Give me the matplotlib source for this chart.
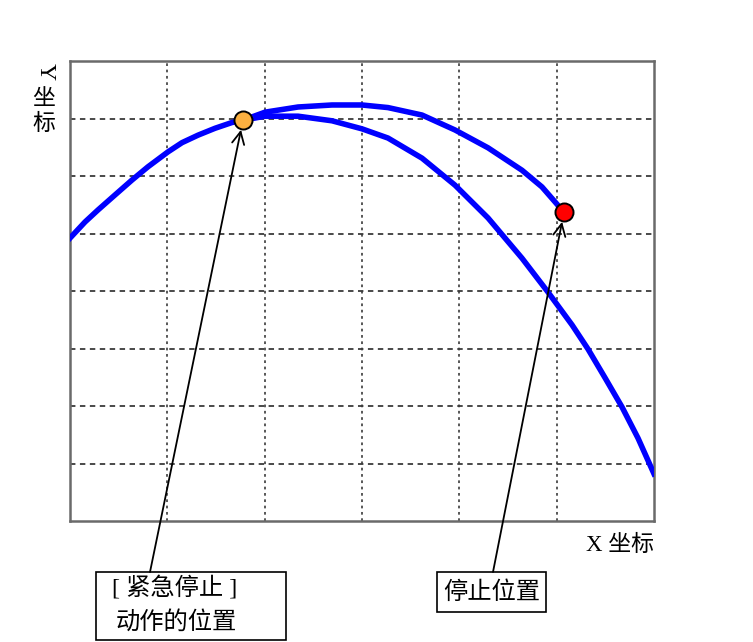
import matplotlib
matplotlib.use('Agg')
import matplotlib.pyplot as plt
from matplotlib.patches import Rectangle

# Trajectory continuing from the emergency stop (lower curve)
lower_x = [0.000, 0.154, 0.288, 0.462, 0.637, 0.801, 1.007, 1.151, 1.315, 1.490,
           1.664, 1.777, 2.004, 2.343, 2.692, 3.000, 3.267, 3.617, 3.956, 4.295,
           4.644, 4.911, 5.158, 5.322, 5.497, 5.672, 5.836, 6.000]
lower_y = [4.92, 5.20, 5.41, 5.67, 5.93, 6.16, 6.42, 6.58, 6.71, 6.83,
           6.93, 6.97, 7.04, 7.04, 6.96, 6.82, 6.66, 6.31, 5.84, 5.27,
           4.57, 3.98, 3.41, 2.99, 2.49, 1.98, 1.44, 0.82]
# Trajectory of the stopping motion (upper curve)
upper_x = [1.777, 2.004, 2.343, 2.692, 3.000, 3.267, 3.617, 3.956, 4.295, 4.644, 4.849, 4.983, 5.075]
upper_y = [6.97, 7.11, 7.20, 7.235, 7.235, 7.19, 7.06, 6.80, 6.49, 6.10, 5.81, 5.55, 5.37]

emergency_pt = (1.777, 6.97)
stop_pt = (5.075, 5.37)

W, H = 753, 642
fig = plt.figure(figsize=(W / 100, H / 100), dpi=100)
ax = fig.add_axes([70 / W, 121 / H, 584 / W, 460 / H])
ax.set_xlim(0, 6)
ax.set_ylim(0, 8)

for xv in range(1, 6):
    ax.axvline(xv, color='#4a4a4a', lw=1.3, ls=(0, (1.5, 2)), zorder=1)
for yv in range(1, 8):
    ax.axhline(yv, color='#3a3a3a', lw=1.3, ls=(0, (3, 2.5)), zorder=1)

ax.plot(lower_x, lower_y, color='#0000FF', lw=4, solid_joinstyle='round', zorder=3)
ax.plot(upper_x, upper_y, color='#0000FF', lw=4, solid_joinstyle='round', zorder=3)

ax.plot([emergency_pt[0]], [emergency_pt[1]], 'o', ms=13, mfc='#FBB040', mec='black', mew=1.4, zorder=5)
ax.plot([stop_pt[0]], [stop_pt[1]], 'o', ms=13, mfc='#FF0000', mec='black', mew=1.4, zorder=5)

ax.set_xticks([])
ax.set_yticks([])
for s in ax.spines.values():
    s.set_color('#6a6a6a')
    s.set_linewidth(1.8)

arrow_kw = dict(arrowstyle='->', lw=1.3, color='black', mutation_scale=22,
                shrinkA=0, shrinkB=7)
ax.annotate('', xy=emergency_pt, xycoords='data', xytext=(150, H - 572),
            textcoords='figure pixels', arrowprops=arrow_kw, annotation_clip=False, zorder=6)
ax.annotate('', xy=stop_pt, xycoords='data', xytext=(493, H - 572),
            textcoords='figure pixels', arrowprops=arrow_kw, annotation_clip=False, zorder=6)

fam = ['Liberation Serif', 'Noto Sans CJK SC']

# boxes
fig.add_artist(Rectangle((96 / W, 1 - 640 / H), 190 / W, 68 / H, transform=fig.transFigure,
                         fill=False, ec='black', lw=1.2))
fig.add_artist(Rectangle((437 / W, 1 - 612 / H), 109 / W, 40 / H, transform=fig.transFigure,
                         fill=False, ec='black', lw=1.2))

fig.text(112 / W, 1 - 588 / H, '[ 紧急停止 ]', family=fam, fontsize=17.5, ha='left', va='center')
fig.text(116 / W, 1 - 622 / H, '动作的位置', family=fam, fontsize=17.5, ha='left', va='center')
fig.text(491.5 / W, 1 - 593 / H, '停止位置', family=fam, fontsize=17.5, ha='center', va='center')

# axis labels
fig.text(620 / W, 1 - 545 / H, 'X 坐标', family=fam, fontsize=16.5, ha='center', va='center')
fig.text(45 / W, 1 - 72 / H, 'Y', family=fam, fontsize=17, rotation=-90, ha='center', va='center')
fig.text(44 / W, 1 - 100 / H, '坐', family=fam, fontsize=16.5, ha='center', va='center')
fig.text(44 / W, 1 - 124 / H, '标', family=fam, fontsize=16.5, ha='center', va='center')

fig.savefig('out.png', dpi=100)
